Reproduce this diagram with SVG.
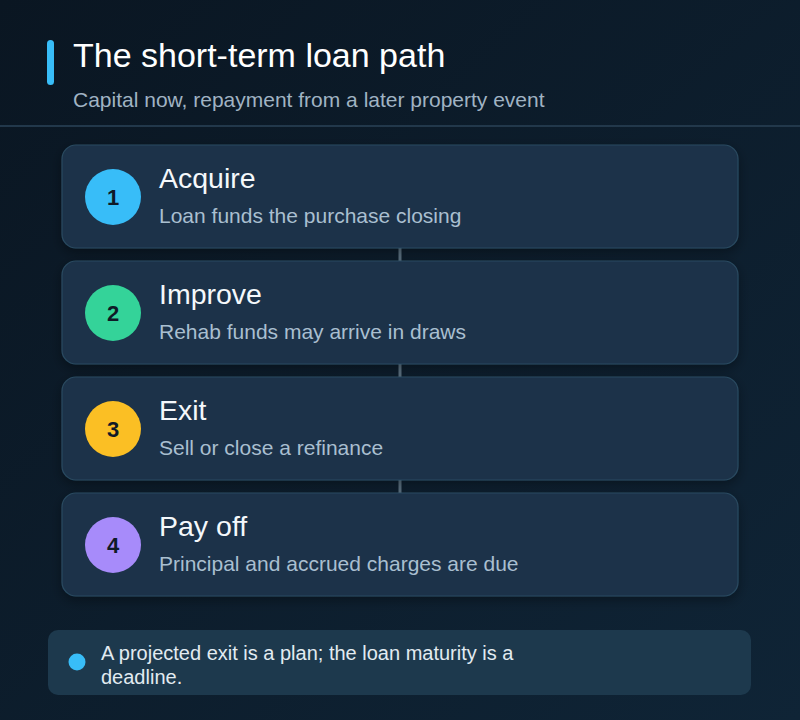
<svg xmlns="http://www.w3.org/2000/svg" width="800" height="720" viewBox="0 0 800 720">
  <defs>
    <linearGradient id="bg" x1="0" y1="0" x2="1" y2="1">
      <stop offset="0" stop-color="#0a1622"/>
      <stop offset="1" stop-color="#0f2436"/>
    </linearGradient>
    <filter id="sh" x="-10%" y="-20%" width="120%" height="150%">
      <feDropShadow dx="0" dy="4" stdDeviation="6" flood-color="#000" flood-opacity="0.35"/>
    </filter>
    <style>
      .card { fill: #1b3348; stroke: #2b4a61; stroke-width: 1.2; }
      .num { font-family: "Liberation Sans", Arial, sans-serif; font-size: 22px; font-weight: bold; fill: #0f1a27; text-anchor: middle; }
      .t { font-family: "Liberation Sans", Arial, sans-serif; font-size: 28.5px; fill: #f4f8fb; }
      .s { font-family: "Liberation Sans", Arial, sans-serif; font-size: 21px; fill: #a9bfd0; }
      .conn { stroke: #5b7080; stroke-width: 3; }
    </style>
  </defs>
  <rect width="800" height="720" fill="url(#bg)"/>

  <g id="header">
    <rect x="47" y="40" width="7" height="45" rx="3.5" fill="#38bdf8"/>
    <text x="73" y="67" font-family="Liberation Sans, Arial, sans-serif" font-size="34" fill="#ffffff">The short-term loan path</text>
    <text x="73" y="107" font-family="Liberation Sans, Arial, sans-serif" font-size="21" fill="#a0b3c3">Capital now, repayment from a later property event</text>
    <line x1="0" y1="126" x2="800" y2="126" stroke="#22384b" stroke-width="2"/>
  </g>

  <g id="connectors">
    <line class="conn" x1="400" y1="248" x2="400" y2="261"/>
    <line class="conn" x1="400" y1="364" x2="400" y2="377"/>
    <line class="conn" x1="400" y1="480" x2="400" y2="493"/>
  </g>

  <g id="step1">
    <rect class="card" x="62" y="145" width="676" height="103" rx="14" filter="url(#sh)"/>
    <circle cx="113" cy="197" r="28" fill="#38bdf8"/>
    <text class="num" x="113" y="205">1</text>
    <text class="t" x="159" y="188">Acquire</text>
    <text class="s" x="159" y="223">Loan funds the purchase closing</text>
  </g>
  <g id="step2">
    <rect class="card" x="62" y="261" width="676" height="103" rx="14" filter="url(#sh)"/>
    <circle cx="113" cy="313" r="28" fill="#34d399"/>
    <text class="num" x="113" y="321">2</text>
    <text class="t" x="159" y="304">Improve</text>
    <text class="s" x="159" y="339">Rehab funds may arrive in draws</text>
  </g>
  <g id="step3">
    <rect class="card" x="62" y="377" width="676" height="103" rx="14" filter="url(#sh)"/>
    <circle cx="113" cy="429" r="28" fill="#fbbf24"/>
    <text class="num" x="113" y="437">3</text>
    <text class="t" x="159" y="420">Exit</text>
    <text class="s" x="159" y="455">Sell or close a refinance</text>
  </g>
  <g id="step4">
    <rect class="card" x="62" y="493" width="676" height="103" rx="14" filter="url(#sh)"/>
    <circle cx="113" cy="545" r="28" fill="#a78bfa"/>
    <text class="num" x="113" y="553">4</text>
    <text class="t" x="159" y="536">Pay off</text>
    <text class="s" x="159" y="571">Principal and accrued charges are due</text>
  </g>

  <g id="note">
    <rect x="48" y="630" width="703" height="65" rx="10" fill="#1d394d"/>
    <circle cx="77" cy="662" r="8.5" fill="#38bdf8"/>
    <text x="101" y="660" font-family="Liberation Sans, Arial, sans-serif" font-size="20" fill="#e2ebf1">A projected exit is a plan; the loan maturity is a</text>
    <text x="101" y="684" font-family="Liberation Sans, Arial, sans-serif" font-size="20" fill="#e2ebf1">deadline.</text>
  </g>
</svg>
